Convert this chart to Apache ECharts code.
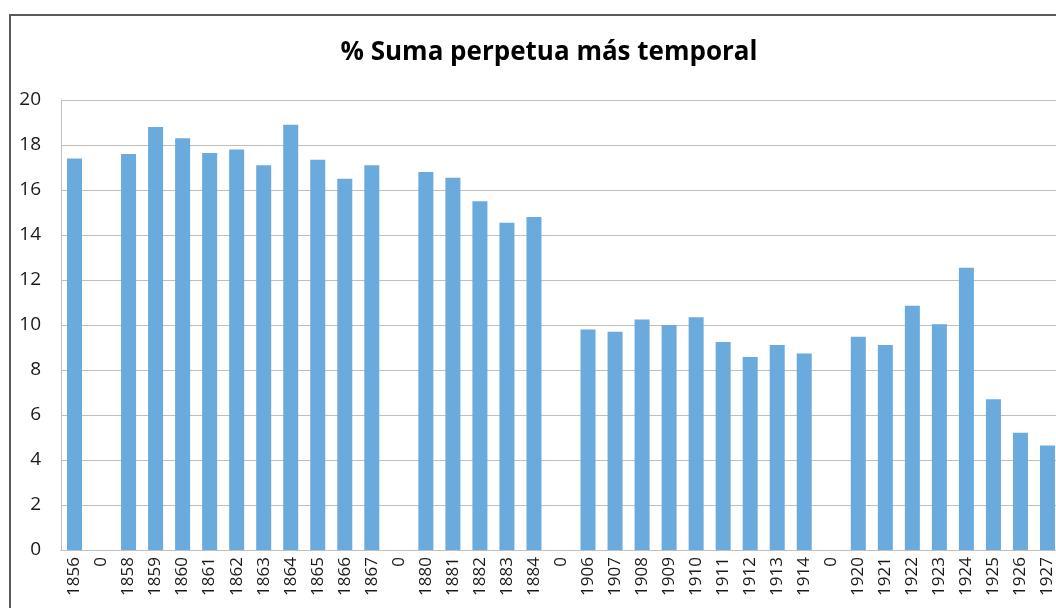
<!DOCTYPE html>
<html>
<head>
<meta charset="utf-8">
<script src="https://cdn.jsdelivr.net/npm/echarts@6/dist/echarts.min.js"></script>
<style>
  html, body { margin: 0; padding: 0; overflow: hidden; background: #fff; }
  #chart { position: absolute; left: 0; top: 0; width: 1062px; height: 608px; }
  /* outer chart frame, cut off at the right and bottom like the reference */
  #frame {
    position: absolute; left: 9px; top: 14px; width: 1100px; height: 700px;
    border-left: 2px solid #595959; border-top: 2px solid #595959;
    pointer-events: none;
  }
</style>
</head>
<body>
<div id="chart"></div>
<div id="frame"></div>
<script>
const title = "% Suma perpetua más temporal";

const years = [
  "1856", "0", "1858", "1859", "1860", "1861", "1862", "1863", "1864", "1865",
  "1866", "1867", "0", "1880", "1881", "1882", "1883", "1884", "0", "1906",
  "1907", "1908", "1909", "1910", "1911", "1912", "1913", "1914", "0", "1920",
  "1921", "1922", "1923", "1924", "1925", "1926", "1927"
];

const values = [
  17.4, 0, 17.6, 18.8, 18.3, 17.65, 17.8, 17.1, 18.9, 17.35,
  16.5, 17.1, 0, 16.8, 16.55, 15.5, 14.55, 14.8, 0, 9.8,
  9.7, 10.25, 10.0, 10.35, 9.24, 8.58, 9.11, 8.73, 0, 9.48,
  9.11, 10.86, 10.03, 12.55, 6.7, 5.21, 4.64
];

const yMin = 0;
const yMax = 20;
const yStep = 2;

const chart = echarts.init(document.getElementById("chart"));

const option = {
  animation: false,
  title: {
    text: title,
    left: 544,
    top: 35,
    textAlign: "center",
    textStyle: {
      fontFamily: "Open Sans",
      fontWeight: "bold",
      fontSize: 26,
      color: "#000"
    }
  },
  grid: {
    left: 61,
    right: 1,
    top: 100,
    bottom: 58,
    containLabel: false
  },
  xAxis: {
    type: "category",
    data: years,
    axisLine: { lineStyle: { color: "#bfbfbf", width: 1 } },
    axisTick: { show: false },
    axisLabel: {
      rotate: 90,
      interval: 0,
      margin: 7,
      fontFamily: "Open Sans",
      fontSize: 17,
      color: "#1a1a1a"
    }
  },
  yAxis: {
    type: "value",
    min: yMin,
    max: yMax,
    interval: yStep,
    axisLine: { show: true, lineStyle: { color: "#bfbfbf", width: 1 } },
    axisTick: { show: false },
    splitLine: { lineStyle: { color: "#bfbfbf", width: 1 } },
    axisLabel: {
      margin: 20,
      fontFamily: "Open Sans",
      fontSize: 19,
      color: "#1a1a1a"
    }
  },
  series: [
    {
      name: title,
      type: "bar",
      data: values,
      barWidth: 15,
      itemStyle: {
        color: "#6aaadc"
      }
    }
  ]
};

chart.setOption(option);
</script>
</body>
</html>
